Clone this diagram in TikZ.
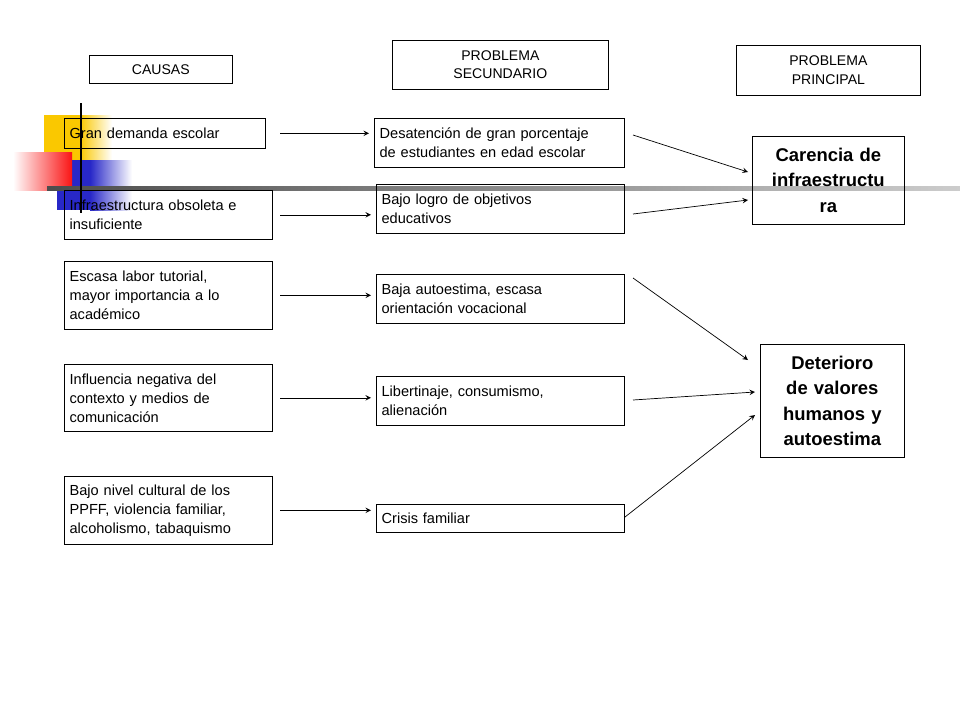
\documentclass[tikz,border=0pt]{standalone}
\usepackage{fontspec}
\setmainfont{Liberation Sans}
\usetikzlibrary{arrows}
\definecolor{deco yellow}{RGB}{250,200,0}
\definecolor{deco red}{RGB}{250,20,20}
\definecolor{deco blue}{RGB}{40,40,200}
\tikzset{
  cajas/.style={draw, anchor=north west, align=left, inner sep=3pt,
    font=\fontsize{8.3}{10.8}\selectfont},
  titulo/.style={draw, anchor=north west, align=center,
    font=\fontsize{8}{10.5}\selectfont},
  grande/.style={draw, anchor=north west, align=center, inner sep=2pt,
    font=\fontsize{10.5}{14.5}\selectfont\bfseries},
  flecha/.style={-stealth, thin}
}
\begin{document}
\begin{tikzpicture}[x=0.02cm, y=-0.02cm]
			\useasboundingbox (0,0) rectangle (960,720);
			% adorno
			\fill[deco yellow] (44,115) rectangle (80,190);
			\shade[left color=deco yellow, right color=white] (80,115) rectangle (112,190);
			\fill[deco blue] (57,160) rectangle (90,210);
			\shade[left color=deco blue, right color=white] (90,160) rectangle (132,210);
			\shade[left color=white, right color=deco red] (13,152) rectangle (72,190);
			\shade[left color=black!70, right color=black!20] (47,186) rectangle (960,190);
			\draw[line width=1.5pt] (81,103) -- (81,213);
			% titulos
			\node[titulo, minimum width=143*0.02cm, minimum height=28*0.02cm] (causas) at (89,55) {CAUSAS};
			\node[titulo, minimum width=216*0.02cm, minimum height=49*0.02cm] (secund) at (392,40) {PROBLEMA\\SECUNDARIO};
			\node[titulo, minimum width=184*0.02cm, minimum height=50*0.02cm] (princ) at (736,45) {PROBLEMA\\PRINCIPAL};
			% causas
			\node[cajas, text width=190*0.02cm, minimum height=30*0.02cm] (c1) at (64,118) {Gran demanda escolar};
			\node[cajas, text width=197*0.02cm, minimum height=49*0.02cm] (c2) at (64,190) {Infraestructura obsoleta e\\insuficiente};
			\node[cajas, text width=197*0.02cm, minimum height=68*0.02cm] (c3) at (64,261) {Escasa labor tutorial,\\mayor importancia a lo\\académico};
			\node[cajas, text width=197*0.02cm, minimum height=67*0.02cm] (c4) at (64,364) {Influencia negativa del\\contexto y medios de\\comunicación};
			\node[cajas, text width=197*0.02cm, minimum height=68*0.02cm] (c5) at (64,476) {Bajo nivel cultural de los\\PPFF, violencia familiar,\\alcoholismo, tabaquismo};
			% problemas secundarios
			\node[cajas, text width=239*0.02cm, minimum height=49*0.02cm] (s1) at (374,118) {Desatención de gran porcentaje\\de estudiantes en edad escolar};
			\node[cajas, text width=237*0.02cm, minimum height=49*0.02cm] (s2) at (376,184) {Bajo logro de objetivos\\educativos};
			\node[cajas, text width=237*0.02cm, minimum height=49*0.02cm] (s3) at (376,274) {Baja autoestima, escasa\\orientación vocacional};
			\node[cajas, text width=237*0.02cm, minimum height=49*0.02cm] (s4) at (376,376) {Libertinaje, consumismo,\\alienación};
			\node[cajas, text width=237*0.02cm, minimum height=28*0.02cm] (s5) at (376,504) {Crisis familiar};
			% problemas principales
			\node[grande, text width=145*0.02cm, minimum height=88*0.02cm] (p1) at (752,136) {Carencia de\\infraestructu\\ra};
			\node[grande, text width=137*0.02cm, minimum height=113*0.02cm] (p2) at (760,344) {Deterioro\\de valores\\humanos y\\autoestima};
			% flechas
			\foreach \i in {1,...,5}
				\draw[flecha] (280,0 |- c\i.east) -- ([xshift=-5*0.02cm]c\i.east -| s\i.west);
			\draw[flecha] (633,135) -- (748,172);
			\draw[flecha] (633,214) -- (748,200);
			\draw[flecha] (633,278) -- (748,360);
			\draw[flecha] (633,400) -- (755,392);
			\draw[flecha] (625,517) -- (755,415);
		\end{tikzpicture}
\end{document}
